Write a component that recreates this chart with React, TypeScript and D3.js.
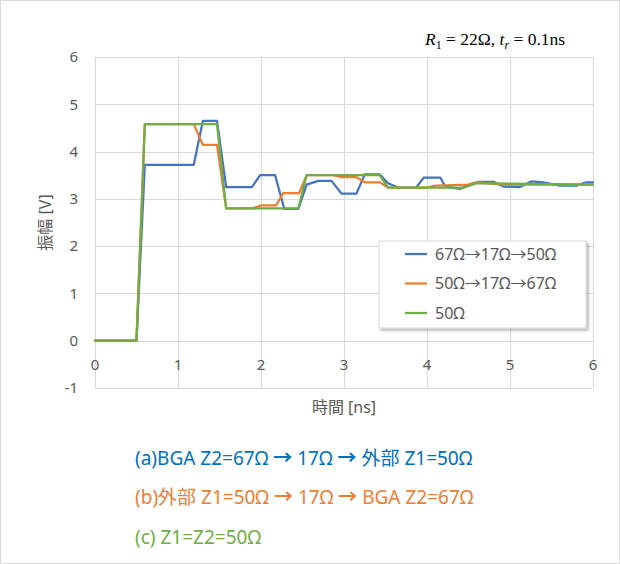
import { useEffect, useRef } from 'react'
import * as d3 from 'd3'

// waveform samples (time in ns, amplitude in V)
const blueT = [0, 0.5, 0.6, 1.19, 1.3, 1.47, 1.58, 1.89, 1.99, 2.17, 2.28, 2.45, 2.55, 2.69, 2.85, 2.97, 3.15, 3.25, 3.43, 3.53, 3.65, 3.87, 3.96, 4.16, 4.22, 4.4, 4.5, 4.62, 4.8, 4.92, 5.12, 5.26, 5.4, 5.6, 5.8, 5.92, 6.0]
const blueV = [0, 0, 3.72, 3.72, 4.65, 4.65, 3.25, 3.25, 3.5, 3.5, 2.79, 2.79, 3.3, 3.38, 3.38, 3.11, 3.11, 3.52, 3.52, 3.33, 3.24, 3.24, 3.45, 3.45, 3.26, 3.21, 3.3, 3.36, 3.36, 3.26, 3.25, 3.37, 3.35, 3.28, 3.28, 3.35, 3.35]

const orangeT = [0, 0.5, 0.6, 1.19, 1.3, 1.47, 1.58, 1.9, 2.0, 2.18, 2.27, 2.46, 2.55, 2.87, 2.97, 3.15, 3.25, 3.43, 3.53, 4.0, 4.1, 4.5, 4.62, 4.9, 6.0]
const orangeV = [0, 0, 4.58, 4.58, 4.14, 4.14, 2.8, 2.8, 2.86, 2.86, 3.12, 3.12, 3.5, 3.5, 3.46, 3.46, 3.35, 3.35, 3.24, 3.24, 3.28, 3.3, 3.35, 3.3, 3.3]

const greenT = [0, 0.5, 0.6, 1.47, 1.58, 2.45, 2.55, 3.43, 3.53, 4.45, 4.6, 5.0, 6.0]
const greenV = [0, 0, 4.58, 4.58, 2.8, 2.8, 3.5, 3.5, 3.24, 3.24, 3.33, 3.32, 3.3]

const seriesNames = ['67Ω→17Ω→50Ω', '50Ω→17Ω→67Ω', '50Ω']
const seriesColors = ['#4472C4', '#ED7D31', '#70AD47']

const xTicks = [0, 1, 2, 3, 4, 5, 6]
const yTicks = [-1, 0, 1, 2, 3, 4, 5, 6]

const notes = ['(a)BGA Z2=67Ω → 17Ω → 外部 Z1=50Ω', '(b)外部 Z1=50Ω → 17Ω → BGA Z2=67Ω', '(c) Z1=Z2=50Ω']
const noteColors = ['#0070C0', '#ED7D31', '#70AD47']

const font = '"Noto Sans", "Noto Sans CJK JP", sans-serif'

export default function App() {
  const ref = useRef<SVGSVGElement>(null)

  useEffect(() => {
    const svg = d3.select(ref.current)
    svg.selectAll('*').remove()

    const x = d3.scaleLinear().domain([0, 6]).range([95, 593])
    const y = d3.scaleLinear().domain([-1, 6]).range([388, 57])

    // outer frame
    svg.append('rect')
      .attr('x', 0.5).attr('y', 0.5)
      .attr('width', 619).attr('height', 563)
      .attr('fill', 'white').attr('stroke', '#D9D9D9')

    const defs = svg.append('defs')
    defs.append('filter').attr('id', 'shadow')
      .attr('x', '-10%').attr('y', '-10%').attr('width', '130%').attr('height', '130%')
      .append('feDropShadow')
      .attr('dx', 2).attr('dy', 2).attr('stdDeviation', 1.5)
      .attr('flood-color', '#000').attr('flood-opacity', 0.3)

    // gridlines
    svg.append('g')
      .selectAll('line')
      .data(yTicks)
      .join('line')
      .attr('x1', x(0)).attr('x2', x(6))
      .attr('y1', d => Math.round(y(d)) + 0.5).attr('y2', d => Math.round(y(d)) + 0.5)
      .attr('stroke', '#D9D9D9')
    svg.append('g')
      .selectAll('line')
      .data(xTicks)
      .join('line')
      .attr('y1', y(-1)).attr('y2', y(6))
      .attr('x1', d => Math.round(x(d)) + 0.5).attr('x2', d => Math.round(x(d)) + 0.5)
      .attr('stroke', '#D9D9D9')

    // tick labels
    svg.append('g')
      .selectAll('text')
      .data(yTicks)
      .join('text')
      .attr('x', 78).attr('y', d => y(d))
      .attr('dy', '0.35em')
      .attr('text-anchor', 'end')
      .attr('font-family', font).attr('font-size', 15).attr('fill', '#595959')
      .text(d => d)
    svg.append('g')
      .selectAll('text')
      .data(xTicks)
      .join('text')
      .attr('x', d => x(d)).attr('y', y(0) + 24)
      .attr('dy', '0.35em')
      .attr('text-anchor', 'middle')
      .attr('font-family', font).attr('font-size', 15).attr('fill', '#595959')
      .text(d => d)

    // axis titles
    svg.append('text')
      .attr('transform', `translate(45,${(y(-1) + y(6)) / 2}) rotate(-90)`)
      .attr('dy', '0.35em')
      .attr('text-anchor', 'middle')
      .attr('font-family', font).attr('font-size', 16).attr('fill', '#595959')
      .text('振幅 [V]')
    svg.append('text')
      .attr('x', (x(0) + x(6)) / 2).attr('y', 407)
      .attr('dy', '0.35em')
      .attr('text-anchor', 'middle')
      .attr('font-family', font).attr('font-size', 16).attr('fill', '#595959')
      .text('時間 [ns]')

    // series
    const line = d3.line<[number, number]>()
      .x(d => x(d[0]))
      .y(d => y(d[1]))
    const series = [
      d3.zip(blueT, blueV),
      d3.zip(orangeT, orangeV),
      d3.zip(greenT, greenV),
    ] as [number, number][][]
    svg.append('g')
      .selectAll('path')
      .data(series)
      .join('path')
      .attr('d', d => line(d))
      .attr('fill', 'none')
      .attr('stroke', (_, i) => seriesColors[i])
      .attr('stroke-width', 2.25)
      .attr('stroke-linejoin', 'round')
      .attr('stroke-linecap', 'round')

    // legend
    const lg = svg.append('g').attr('transform', 'translate(379,241)')
    lg.append('rect')
      .attr('width', 207).attr('height', 87)
      .attr('fill', 'white').attr('stroke', '#D9D9D9')
      .attr('filter', 'url(#shadow)')
    const items = lg.selectAll('g.item')
      .data(seriesNames)
      .join('g')
      .attr('class', 'item')
      .attr('transform', (_, i) => `translate(0,${13 + i * 29.5})`)
    items.append('line')
      .attr('x1', 26).attr('x2', 48)
      .attr('stroke', (_, i) => seriesColors[i])
      .attr('stroke-width', 2.25)
    items.append('text')
      .attr('x', 56).attr('dy', '0.35em')
      .attr('font-family', font).attr('font-size', 16).attr('fill', '#595959')
      .text(d => d)

    // condition note, top right
    const ann = svg.append('text')
      .attr('x', 425).attr('y', 45)
      .attr('font-family', '"Liberation Serif", "Times New Roman", serif')
      .attr('font-size', 17.5).attr('fill', '#000')
    ann.append('tspan').attr('font-style', 'italic').text('R')
    ann.append('tspan').attr('font-size', 12).attr('dy', 4).text('1')
    ann.append('tspan').attr('dy', -4).text(' = 22Ω, ')
    ann.append('tspan').attr('font-style', 'italic').text('t')
    ann.append('tspan').attr('font-size', 12).attr('font-style', 'italic').attr('dy', 4).text('r')
    ann.append('tspan').attr('dy', -4).text(' = 0.1ns')

    // captions under the chart, arrows drawn heavier
    const cap = svg.append('g')
      .selectAll('text')
      .data(notes)
      .join('text')
      .attr('x', 135).attr('y', (_, i) => 458 + i * 39.5)
      .attr('dy', '0.35em')
      .attr('font-family', font).attr('font-size', 19)
      .attr('fill', (_, i) => noteColors[i])
    cap.each(function (d) {
      const t = d3.select(this)
      d.split('→').forEach((part, j) => {
        if (j > 0) t.append('tspan').attr('font-weight', 'bold').text('→')
        t.append('tspan').text(part)
      })
    })
  }, [])

  return (
    <>
      <style>{'body{margin:0}'}</style>
      <svg ref={ref} width={620} height={564} style={{ display: 'block' }} />
    </>
  )
}
